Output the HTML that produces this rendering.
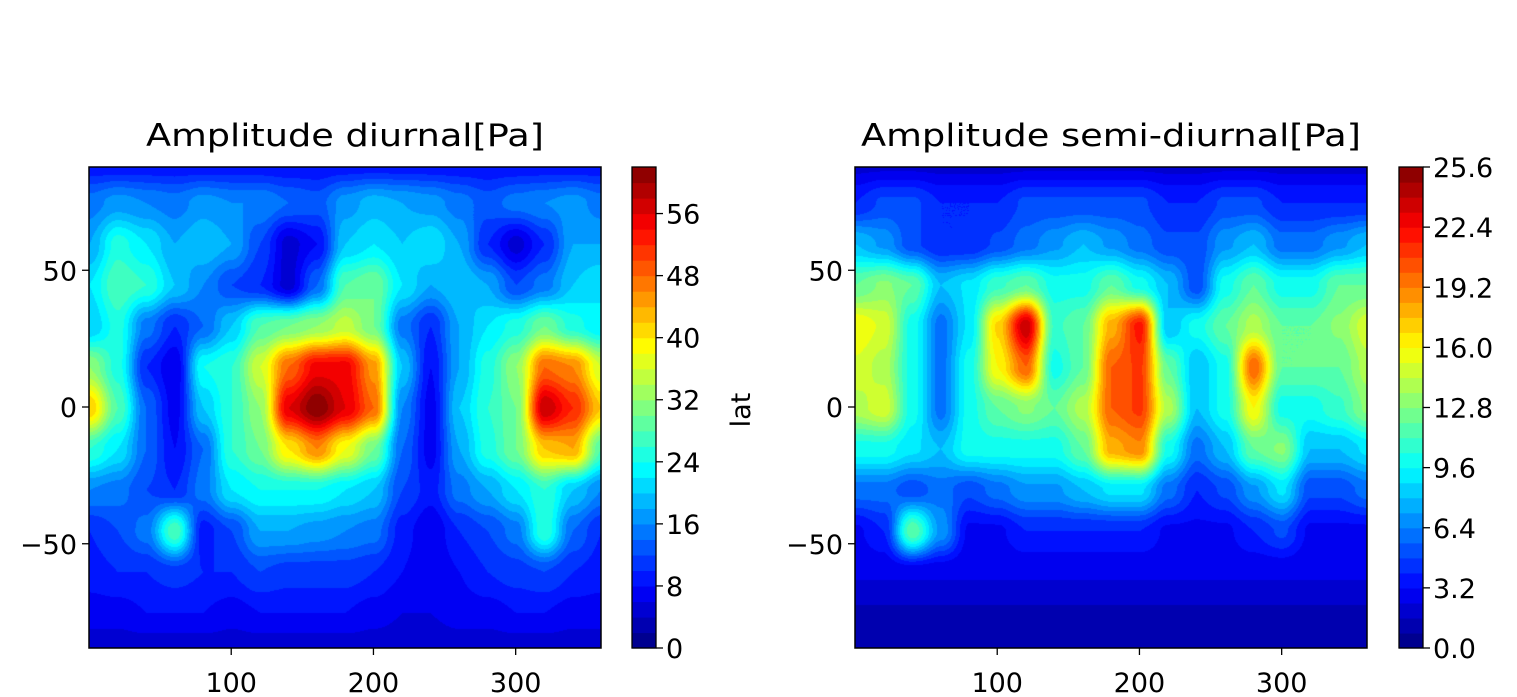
<!DOCTYPE html>
<html><head><meta charset="utf-8">
<style>
body{margin:0;background:#fff;width:1517px;height:697px;overflow:hidden;font-family:"Liberation Sans","DejaVu Sans",sans-serif;}
svg text{font-family:"DejaVu Sans","Liberation Sans",sans-serif;}
canvas{position:absolute;}
</style></head>
<body>
<canvas id="c1" width="512" height="481" style="left:89px;top:167px"></canvas>
<canvas id="c2" width="512" height="481" style="left:855px;top:167px"></canvas>
<svg id="s" width="1517" height="697" style="position:absolute;left:0;top:0"></svg>
<script>
const lons=[0,20,40,60,80,100,120,140,160,180,200,220,240,260,280,300,320,340,360];
const lats=[90,75,60,45,30,15,0,-15,-30,-45,-60,-75,-90];
const diurnal=[
[8,8,8,8,8,8,8,8,8,8,8,8,8,8,8,8,8,8,8],
[15,17,16,15,17,16,16,14,13,17,19,18,17,15,13,15,16,17,15],
[18,25,22,18,20,18,12,5,8,20,22,20,22,18,10,5,10,18,18],
[22,28,26,20,16,12,10,5,14,28,30,22,18,20,18,12,15,20,22],
[20,25,15,10,14,20,28,30,32,35,30,15,10,18,22,25,30,25,22],
[32,25,10,6,24,26,36,48,55,55,45,20,8,18,25,32,48,46,36],
[42,28,14,7,20,26,32,56,62,56,48,16,7,20,26,30,58,52,42],
[26,22,14,8,14,26,30,40,46,38,30,14,7,18,25,30,42,44,28],
[16,15,12,10,15,22,24,24,24,22,20,12,9,15,18,22,26,20,16],
[10,12,15,28,9,12,18,18,17,16,15,9,6,10,12,15,26,14,10],
[9,10,10,11,10,10,12,11,11,11,10,8,6,8,10,11,12,10,9],
[7,7,8,8,8,7,8,8,8,8,7,6,6,7,7,8,8,7,7],
[4,4,4,4,4,4,4,4,4,4,4,4,4,4,4,4,4,4,4]];
const semidiurnal=[
[2,2,2,2,2,2,2,2,2,2,2,2,2,2,2,2,2,2,2],
[4,5,5,4,4,4,5,5,5,5,5,4,4,5,5,4,4,4,4],
[8,7,5,4,4,5,6,7,8,7,6,5,5,7,8,6,6,7,8],
[12,13,12,8,9,11,12,10,10,12,10,8,5,10,12,10,10,12,12],
[16,15,10,6,9,17,24,11,12,18,22,8,10,12,14,12,12,13,15],
[15,14,10,6,10,16,20,10,12,20,21,12,8,10,20,12,12,12,14],
[14,15,10,6,10,12,13,12,14,20,21,14,8,10,16,10,10,11,13],
[10,10,9,8,10,10,10,10,12,18,19,10,6,8,12,13,8,8,9],
[6,6,5,6,5,6,7,7,8,9,9,6,4,5,7,9,5,5,6],
[3,4,12,7,3,3,4,4,4,4,4,3,3,3,4,5,3,3,3],
[2.5,2.5,2.5,2.5,2.5,2.5,2.5,2.5,2.5,2.5,2.5,2.5,2.5,2.5,2.5,2.5,2.5,2.5,2.5],
[1.5,1.5,1.5,1.5,1.5,1.5,1.5,1.5,1.5,1.5,1.5,1.5,1.5,1.5,1.5,1.5,1.5,1.5,1.5],
[1,1,1,1,1,1,1,1,1,1,1,1,1,1,1,1,1,1,1]];
const cb1Ticks=[0,8,16,24,32,40,48,56];
const cb2Ticks=["0.0","3.2","6.4","9.6","12.8","16.0","19.2","22.4","25.6"];
const xTicks=[100,200,300];
const yTicks=[50,0,-50];

function jet(t){t=Math.max(0,Math.min(1,t));const c=v=>Math.round(255*Math.max(0,Math.min(1,v)));
return [c(1.5-Math.abs(4*t-3)),c(1.5-Math.abs(4*t-2)),c(1.5-Math.abs(4*t-1))];}
function sample(g,lon,lat){
 let fx=lon/20, fy=(90-lat)/15;
 let i=Math.min(17,Math.floor(fx)), j=Math.min(11,Math.floor(fy));
 let u=fx-i,v=fy-j;
 u=u*u*(3-2*u); v=v*v*(3-2*v);
 return g[j][i]*(1-u)*(1-v)+g[j][i+1]*u*(1-v)+g[j+1][i]*(1-u)*v+g[j+1][i+1]*u*v;}
function draw(id,g,vmax,nlev){
 const cv=document.getElementById(id),ctx=cv.getContext('2d'),W=512,H=481;
 const img=ctx.createImageData(W,H);
 for(let y=0;y<H;y++)for(let x=0;x<W;x++){
  const lon=x/W*360, lat=88-y/H*176;
  let v=sample(g,lon,lat);
  let l=Math.min(nlev-1,Math.floor(v/vmax*nlev));
  const c=jet((l+0.5)/nlev);const k=(y*W+x)*4;
  img.data[k]=c[0];img.data[k+1]=c[1];img.data[k+2]=c[2];img.data[k+3]=255;}
 ctx.putImageData(img,0,0);}
draw('c1',diurnal,62,31);
draw('c2',semidiurnal,25.6,32);

const S=document.getElementById('s'),NS='http://www.w3.org/2000/svg';
function el(t,a,txt){const e=document.createElementNS(NS,t);for(const k in a)e.setAttribute(k,a[k]);if(txt!==undefined)e.textContent=txt;S.appendChild(e);return e;}
function panel(x0,title,tname){
 const xs=v=>x0+v/360*512, ys=v=>407-v*2.735;
 let r=el('rect',{x:x0,y:167,width:512,height:481,fill:'none',stroke:'#000','stroke-width':1.5});
 
 let t=el('text',{x:x0+256,y:146,'font-size':31,'text-anchor':'middle',textLength:tname==='diurnal'?398:500,lengthAdjust:'spacingAndGlyphs'},title);
 
 xTicks.forEach(v=>{el('line',{x1:xs(v),x2:xs(v),y1:648,y2:655,stroke:'#000','stroke-width':1.3});
  let tt=el('text',{x:xs(v),y:692,'font-size':27,'text-anchor':'middle'},v);
  });
 yTicks.forEach(v=>{el('line',{x1:x0-7,x2:x0,y1:ys(v),y2:ys(v),stroke:'#000','stroke-width':1.3});
  let tt=el('text',{x:x0-12,y:ys(v)+10,'font-size':27,'text-anchor':'end'},v<0?'\u2212'+(-v):v);
  });
}
panel(89,'Amplitude diurnal[Pa]','diurnal');
panel(855,'Amplitude semi-diurnal[Pa]','semidiurnal');
function cbar(x0,vmax,nlev,ticks,name){
 const h=481/nlev;
 for(let l=0;l<nlev;l++){const c=jet((l+0.5)/nlev);
  let r=el('rect',{x:x0,y:648-(l+1)*h,width:24,height:h+0.6,fill:`rgb(${c})`});
  }
 el('rect',{x:x0,y:167,width:24,height:481,fill:'none',stroke:'#000','stroke-width':1.3});
 ticks.forEach(tv=>{const y=648-parseFloat(tv)/vmax*481;
  el('line',{x1:x0+24,x2:x0+31,y1:y,y2:y,stroke:'#000','stroke-width':1.3});
  let t=el('text',{x:x0+34,y:y+10,'font-size':27},tv);
  });
}
cbar(632,62,31,cb1Ticks,'colorbar-diurnal');
cbar(1399,25.6,32,cb2Ticks,'colorbar-semidiurnal');
let lt=el('text',{x:750,y:410,'font-size':27,'text-anchor':'middle',transform:'rotate(-90 750 410)'},'lat');

</script>
</body></html>
